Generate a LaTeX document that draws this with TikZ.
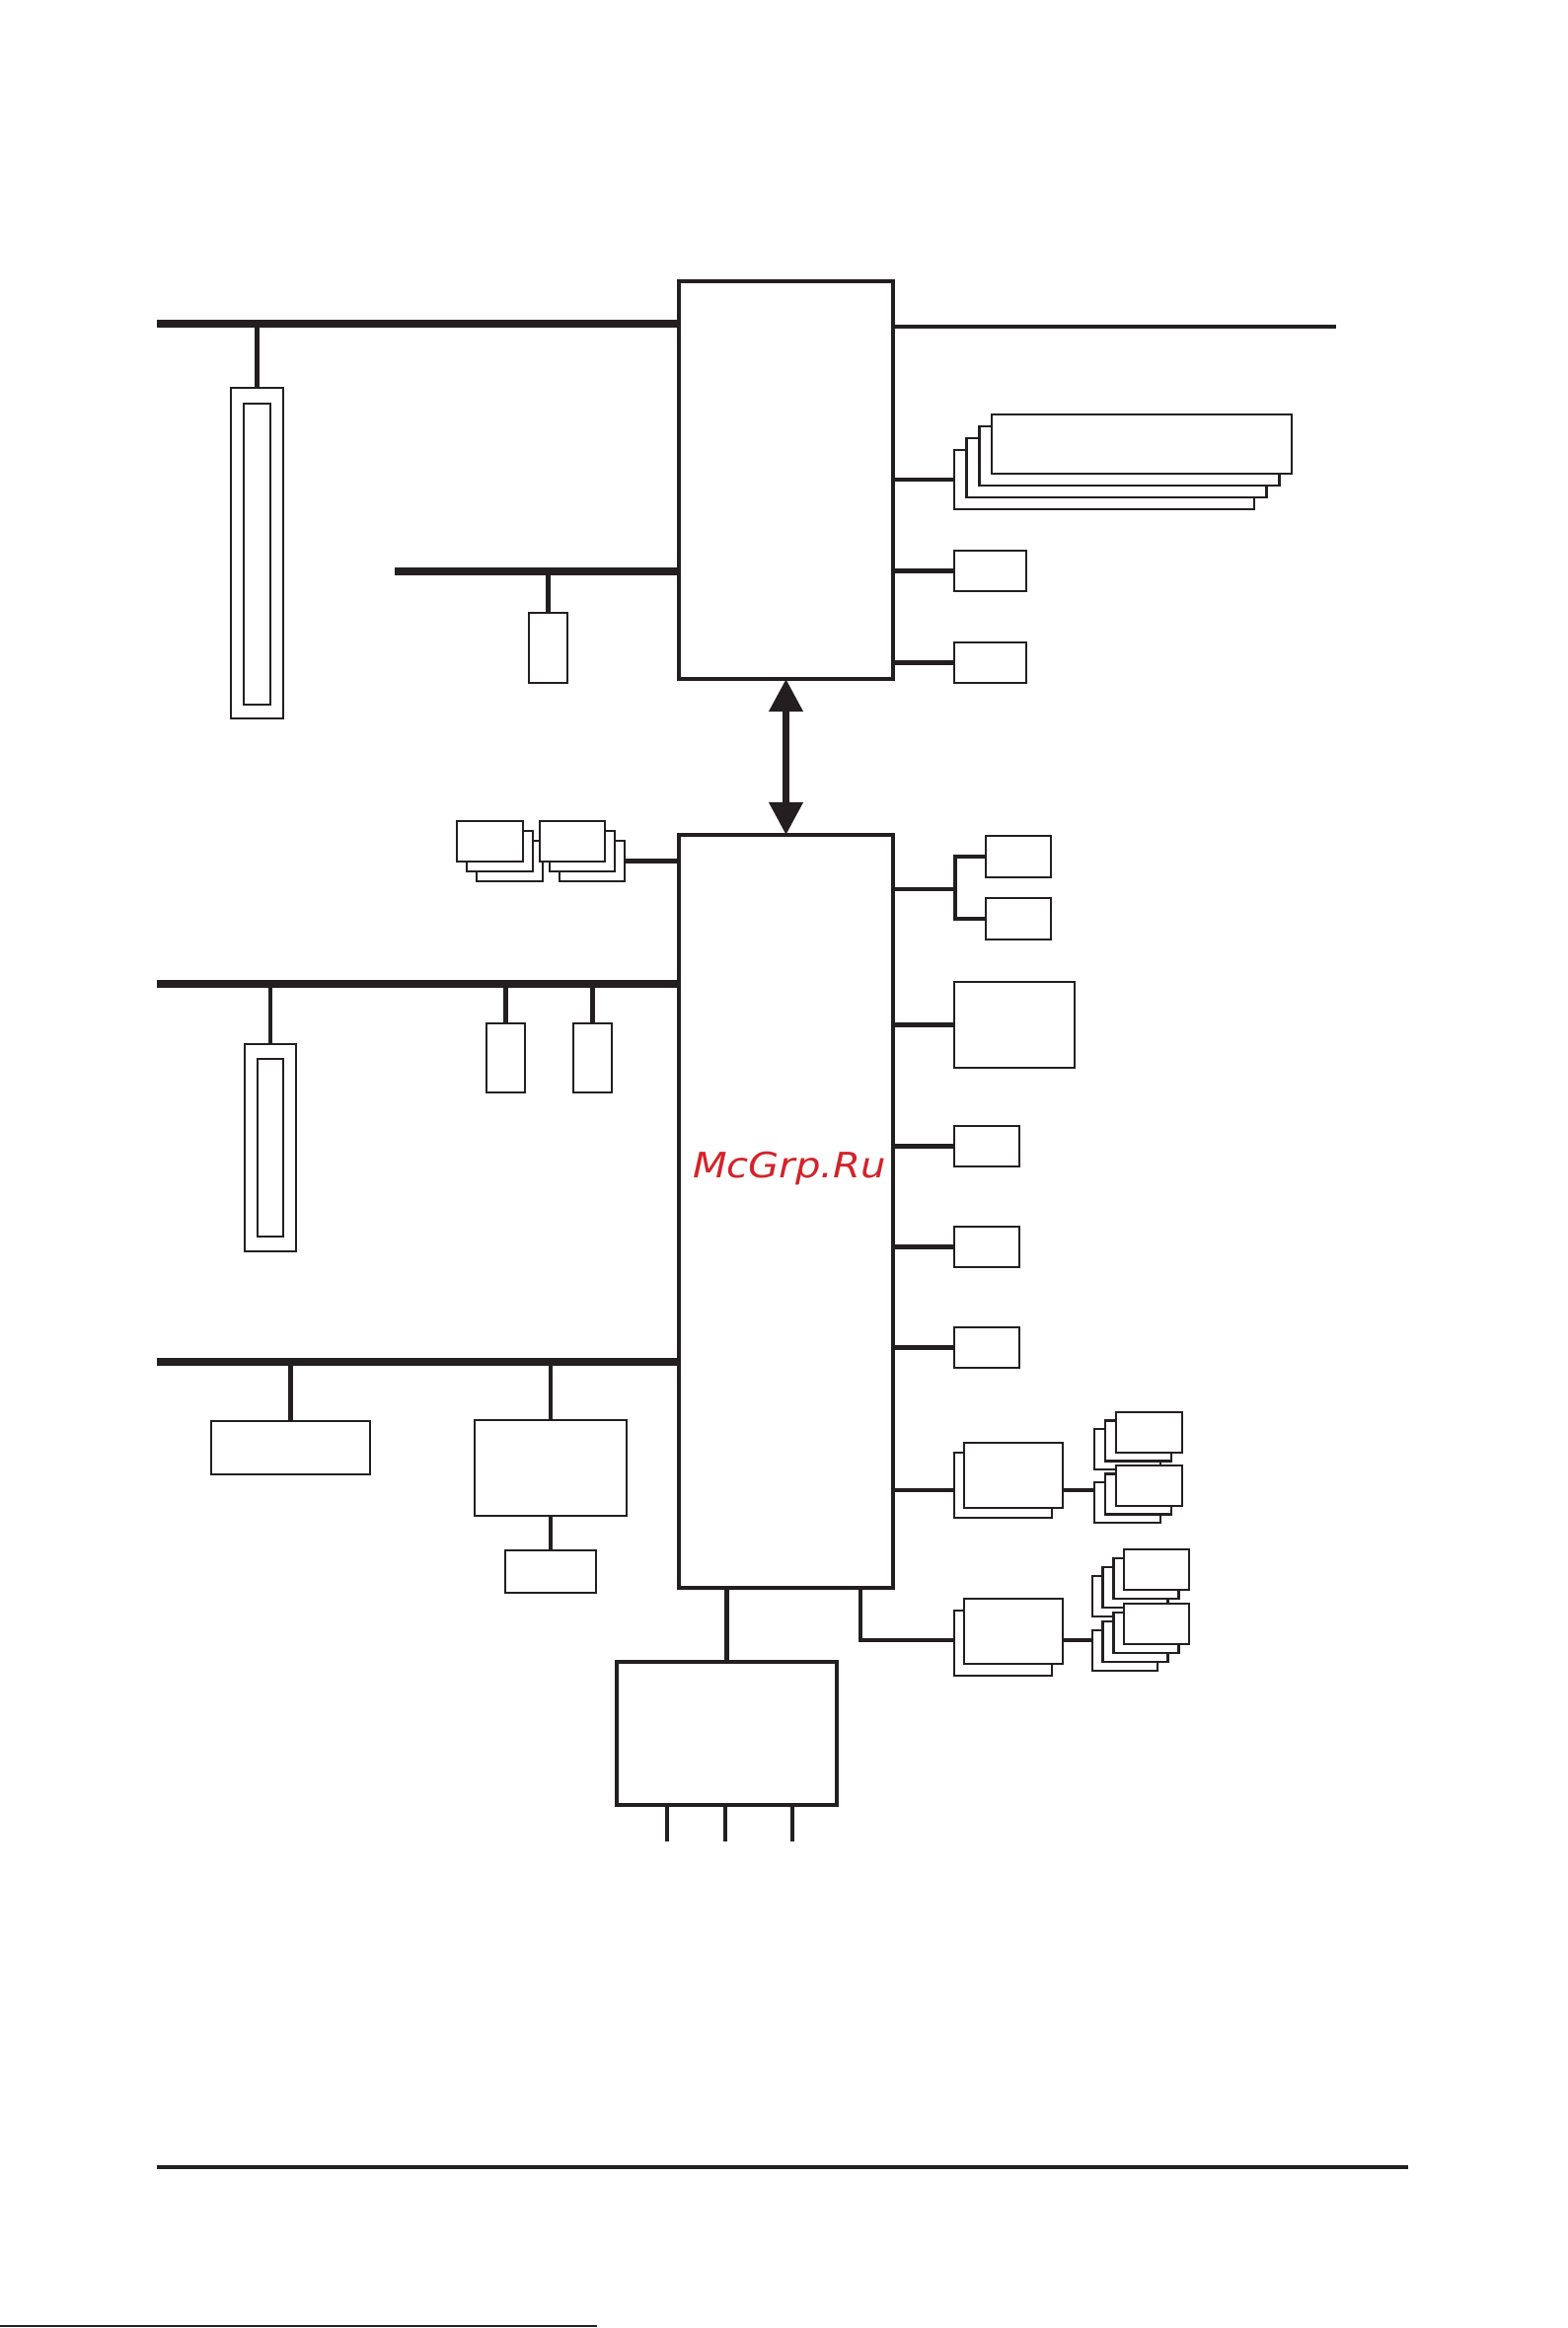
\documentclass[tikz,border=0pt]{standalone}
\usepackage{fontspec}
\usepackage{tikz}
\usetikzlibrary{fit,arrows.meta}
\newfontfamily\markfont{DejaVu Sans}
\definecolor{InkBlack}{HTML}{231F20}
\definecolor{MarkRed}{HTML}{D2232A}

\begin{document}
\begin{tikzpicture}[x=0.1mm, y=-0.1mm,
  box/.style={draw=InkBlack, fill=white, line width=0.7pt, inner sep=0pt, outer sep=0pt},
  chip/.style={box, line width=1.05pt},
  bus/.style={draw=InkBlack, line width=2.3pt},
  wire/.style={draw=InkBlack, line width=1.15pt},
  >={Triangle[width=9.4pt, length=9.4pt]}]
  \useasboundingbox (0,0) rectangle (1588,2359);

  \node[chip, fit={(688,285) (905,688)}] (nb) {};
  \node[chip, fit={(688,846) (905,1609)}] (sb) {};
  \node[chip, fit={(625,1684) (848,1829)}] (io) {};
  \draw[InkBlack, line width=2pt, <->] (nb.south) -- (sb.north);

  \begin{scope}
    \coordinate (busA) at (159,328);
    \coordinate (busB) at (400,579);
    \coordinate (out) at (1354,331);
    \draw[bus] (busA) -- (busA -| nb.west);
    \draw[bus] (busB) -- (busB -| nb.west);
    \draw[wire] (nb.east |- out) -- (out);
    \node[box, fit={(234,393) (287,728)}] (slotA) {};
    \node[box, fit={(247,409) (274,714)}] (slotAin) {};
    \draw[wire] (slotA.north |- busA) -- (slotA.north);
    \node[box, fit={(536,621) (575,692)}] (bios) {};
    \draw[wire] (bios.north |- busB) -- (bios.north);
    \foreach \i in {0,...,3}
      \node[box, fit={(967+12.7*\i,456-12*\i) (1271+12.7*\i,516-12*\i)}] (dimm\i) {};
    \draw[wire] (nb.east |- dimm0.west) -- (dimm0.west);
    \foreach \i/\y in {0/558,1/651} {
      \node[box, fit={(967,\y) (1040,\y+41)}] (gfx\i) {};
      \draw[wire] (nb.east |- gfx\i.west) -- (gfx\i.west);
    }
  \end{scope}

  \begin{scope}
    \coordinate (busC) at (159,997);
    \coordinate (busD) at (159,1380);
    \draw[bus] (busC) -- (busC -| sb.west);
    \draw[bus] (busD) -- (busD -| sb.west);
    \foreach \i/\x/\y in {0/483/852,1/473/842,2/463/832}
      \node[box, fit={(\x,\y) (\x+67,\y+41)}] (usbA\i) {};
    \foreach \i/\x/\y in {0/567/852,1/557/842,2/547/832}
      \node[box, fit={(\x,\y) (\x+66,\y+41)}] (usbB\i) {};
    \draw[wire] (usbB0.east) -- (sb.west |- usbB0.east);
    \node[box, fit={(248,1058) (300,1268)}] (slotB) {};
    \node[box, fit={(261,1073) (287,1253)}] (slotBin) {};
    \draw[wire] (slotB.north |- busC) -- (slotB.north);
    \foreach \i/\x in {0/493,1/581} {
      \node[box, fit={(\x,1037) (\x+39,1107)}] (pci\i) {};
      \draw[wire] (pci\i.north |- busC) -- (pci\i.north);
    }
    \node[box, fit={(214,1440) (375,1494)}] (lpc) {};
    \node[box, fit={(481,1439) (635,1536)}] (sio) {};
    \node[box, fit={(512,1571) (604,1614)}] (kbd) {};
    \draw[wire] (lpc.north |- busD) -- (lpc.north);
    \draw[wire] (sio.north |- busD) -- (sio.north);
    \draw[wire] (sio.south) -- (kbd.north);
  \end{scope}

  \begin{scope}
    \coordinate (fork) at (968,901);
    \node[box, fit={(999,847) (1065,889)}] (lanA) {};
    \node[box, fit={(999,910) (1065,952)}] (lanB) {};
    \draw[wire] (sb.east |- fork) -- (fork);
    \draw[wire, line width=1.4pt] (lanA.west) -| (fork) |- (lanB.west);
    \node[box, fit={(967,995) (1089,1082)}] (audio) {};
    \draw[wire] (sb.east |- audio.west) -- (audio.west);
    \foreach \i/\y in {0/1141,1/1243,2/1345} {
      \node[box, fit={(967,\y) (1033,\y+41)}] (port\i) {};
      \draw[wire] (sb.east |- port\i.west) -- (port\i.west);
    }
  \end{scope}

  \begin{scope}
    \coordinate (linkA) at (967,1510);
    \coordinate (linkB) at (872,1662);
    \node[box, fit={(967,1472) (1066,1538)}] (ideB) {};
    \node[box, fit={(977,1462) (1077,1528)}] (ideF) {};
    \foreach \g/\y in {top/1448,bot/1502}
      \foreach \i in {0,1,2}
        \node[box, fit={(1109+11*\i,\y-8.5*\i) (1176+11*\i,\y+41-8.5*\i)}] (hdd\g\i) {};
    \draw[wire] (sb.east |- linkA) -- (linkA);
    \draw[wire] (ideF.east |- linkA) -- (hddbot0.west |- linkA);
    \node[box, fit={(967,1632) (1066,1698)}] (sataB) {};
    \node[box, fit={(977,1620) (1077,1686)}] (sataF) {};
    \foreach \g/\y in {top/1597,bot/1652}
      \foreach \i in {0,...,3}
        \node[box, fit={(1107+10.7*\i,\y-9*\i) (1173+10.7*\i,\y+41-9*\i)}] (drv\g\i) {};
    \draw[wire] (sb.south -| linkB) -- (linkB) -- (sataB.west |- linkB);
    \draw[wire] (sataF.east |- linkB) -- (drvbot0.west |- linkB);
  \end{scope}

  \draw[wire] (sb.south -| io.north) -- (io.north);
  \foreach \x in {676,735,803} {
    \coordinate (leg\x) at (\x,1866);
    \draw[wire] (io.south -| leg\x) -- (leg\x);
  }

  \node[font=\markfont\itshape\fontsize{10.1}{12}\selectfont, text=MarkRed, xscale=1.13, anchor=base] (mark) at (800,1193) {McGrp.Ru};

  \coordinate (ruleL) at (159,2196);
  \coordinate (ruleR) at (1427,2196);
  \draw[InkBlack, line width=0.95pt] (ruleL) -- (ruleR);
  \coordinate (edgeL) at (0,2357);
  \coordinate (edgeR) at (605,2357);
  \draw[InkBlack, line width=0.4pt] (edgeL) -- (edgeR);
\end{tikzpicture}
\end{document}
